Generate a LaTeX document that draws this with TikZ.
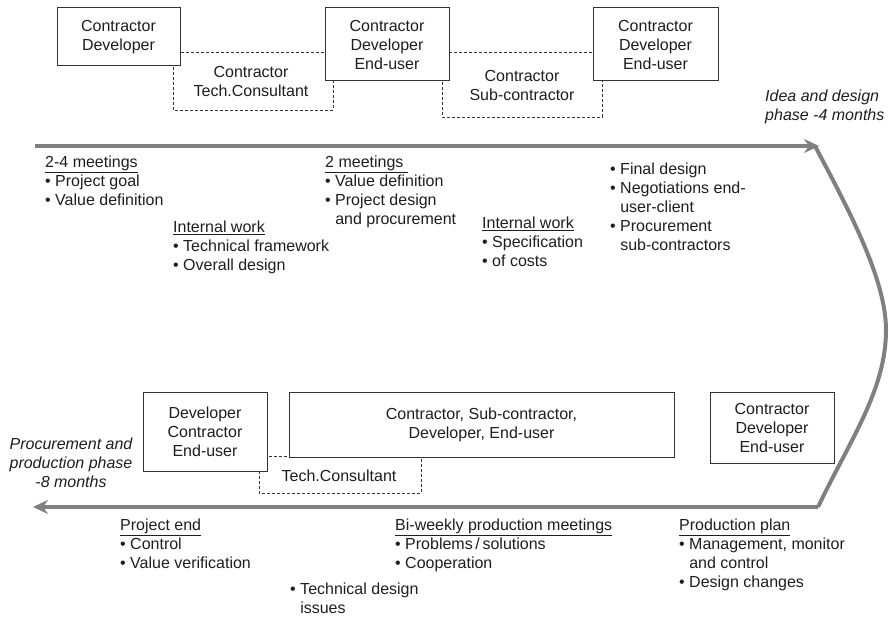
\documentclass[tikz,border=0pt]{standalone}
\usepackage{fontspec}
\setmainfont{Liberation Sans}
\usetikzlibrary{arrows.meta}
\definecolor{ink}{HTML}{1E1E1E}
\definecolor{frame}{HTML}{333333}
\definecolor{track}{HTML}{808080}
\newcommand{\bl}{\textbullet\ }
\newcommand{\ind}{\phantom{\textbullet\ }}
\begin{document}
\begin{tikzpicture}[x=1pt,y=-1pt,
  every node/.style={font=\fontsize{16}{19}\selectfont, text=ink},
  party/.style={draw=frame, line width=1pt, fill=white, align=center, inner sep=0pt},
  guest/.style={draw=frame, line width=0.8pt, dashed, dash pattern=on 3pt off 2pt},
  notes/.style={align=left, anchor=north west, inner sep=0pt},
  phase/.style={font=\fontsize{16}{19}\selectfont\itshape, inner sep=0pt},
  track/.style={draw=track, line width=4pt},
  tip/.style={-{Stealth[length=15pt,width=14pt,inset=5pt]}}]
\useasboundingbox (0,0) rectangle (889,618);

% dashed side groups, drawn first so the solid boxes cover them
\draw[guest] (173,52) rectangle (333,110);
\draw[guest] (442,52) rectangle (602,117);
\draw[guest] (259,456) rectangle (421,493);
\node[align=center, inner sep=0pt] (tc1) at (251,81) {Contractor\\Tech.Consultant};
\node[align=center, inner sep=0pt] (sc1) at (522,85) {Contractor\\Sub-contractor};
\node[inner sep=0pt] (tc2) at (339,476) {Tech.Consultant};

% participant boxes of the design phase
\node[party, minimum width=123pt, minimum height=58pt] (a) at (118.5,37) {Contractor\\Developer};
\node[party, minimum width=124pt, minimum height=73pt] (b) at (387,44.5) {Contractor\\Developer\\End-user};
\node[party, minimum width=125pt, minimum height=73pt] (c) at (655.5,44.5) {Contractor\\Developer\\End-user};

% participant boxes of the production phase
\node[party, minimum width=124pt, minimum height=79pt] (f) at (205,431.5) {Developer\\Contractor\\End-user};
\node[party, minimum width=385pt, minimum height=65pt] (g) at (481.5,424.5) {Contractor, Sub-contractor,\\Developer, End-user};
\node[party, minimum width=124pt, minimum height=71pt] (h) at (772,427.5) {Contractor\\Developer\\End-user};

% process track
\coordinate (ts) at (35,146);
\coordinate (te) at (819,146);
\coordinate (bs) at (33,507);
\coordinate (be) at (818,507);
\coordinate (turn) at (886,330);
\draw[track, tip] (ts) -- (te);
\draw[track] (815,146) .. controls (850,212) and (886,280) .. (turn)
  .. controls (886,390) and (850,440) .. (be);
\draw[track, tip] (be) -- (bs);

% phase labels
\node[phase, align=left, anchor=north west] (idea) at (765,90) {Idea and design\\phase -4 months};
\node[phase, align=center, anchor=north] (proc) at (71,438) {Procurement and\\production phase\\-8 months};

% design phase notes
\node[notes] (m1) at (45,156) {\underline{2-4 meetings}\\\bl Project goal\\\bl Value definition};
\node[notes] (iw1) at (173,221) {\underline{Internal work}\\\bl Technical framework\\\bl Overall design};
\node[notes] (m2) at (325,156) {\underline{2 meetings\ }\\\bl Value definition\\\bl Project design\\\ind and procurement};
\node[notes] (iw2) at (482,217) {\underline{Internal work}\\\bl Specification\\\bl of costs};
\node[notes] (fd) at (610,163) {\bl Final design\\\bl Negotiations end-\\\ind user-client\\\bl Procurement\\\ind sub-contractors};

% production phase notes
\node[notes] (pe) at (120,519) {\underline{Project end}\\\bl Control\\\bl Value verification};
\node[notes] (td) at (290,583) {\bl Technical design\\\ind issues};
\node[notes] (bw) at (395,519) {\underline{Bi-weekly production meetings}\\\bl Problems\,/\,solutions\\\bl Cooperation};
\node[notes] (pp) at (679,519) {\underline{Production plan}\\\bl Management, monitor\\\ind and control\\\bl Design changes};
\end{tikzpicture}
\end{document}
